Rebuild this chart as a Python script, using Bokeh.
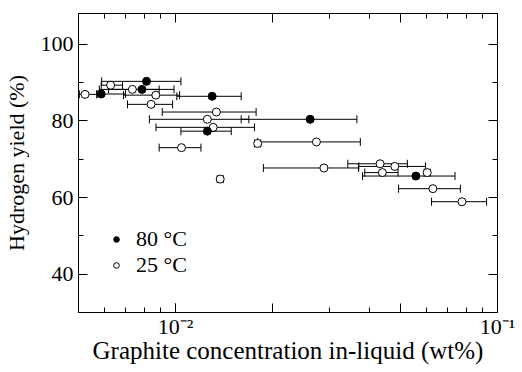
from bokeh.plotting import figure
from bokeh.models import (ColumnDataSource, Whisker, TeeHead, FixedTicker, LogAxis,
                          LinearAxis, Legend, LegendItem)
from bokeh.embed import file_html
from bokeh.resources import INLINE

# 80 °C (filled)
hot_x = [0.00813, 0.00787, 0.00588, 0.0130, 0.0262, 0.01256, 0.0558]
hot_y = [90.3, 88.2, 87.0, 86.4, 80.4, 77.3, 65.6]
hot_lo = [0.0059, 0.0062, 0.0057, 0.0101, 0.0160, 0.0104, 0.0381]
hot_hi = [0.0104, 0.0099, 0.0070, 0.0160, 0.0366, 0.0149, 0.0738]

# 25 °C (open)
cold_x = [0.00524, 0.00629, 0.00735, 0.00869, 0.0084, 0.0134, 0.01256, 0.0131, 0.01044,
          0.0180, 0.0274, 0.01377, 0.0289, 0.0432, 0.0480, 0.0439, 0.0605, 0.0630, 0.0776]
cold_y = [86.9, 89.3, 88.2, 86.7, 84.3, 82.3, 80.4, 78.3, 73.0,
          74.1, 74.5, 64.8, 67.7, 68.8, 68.1, 66.5, 66.5, 62.3, 58.9]
cold_lo = [0.00503, 0.00588, 0.0058, 0.0069, 0.0071, 0.0091, 0.0083, 0.0087, 0.0089,
           0.0176, 0.0180, 0.01348, 0.01875, 0.0343, 0.0371, 0.0387, 0.0592, 0.0493, 0.0624]
cold_hi = [0.0057, 0.00685, 0.0089, 0.0103, 0.0098, 0.0178, 0.0169, 0.0176, 0.0120,
           0.0184, 0.0375, 0.01407, 0.0370, 0.0525, 0.0598, 0.0491, 0.0618, 0.0767, 0.0925]

labels = ["80 °C", "25 °C"]
x_labeled = [0.01, 0.1]
x_labels = {0.01: "10⁻²", 0.1: "10⁻¹"}
x_long = [0.01, 0.02, 0.05, 0.1]
x_short = [0.005, 0.006, 0.007, 0.008, 0.009, 0.03, 0.04, 0.06, 0.07, 0.08, 0.09]
y_major = [40, 60, 80, 100]
y_minor = [30, 50, 70, 90]

FONT = "Liberation Serif"

p = figure(width=522, height=372, x_axis_type="log", x_range=(0.005, 0.1), y_range=(30, 108),
           x_axis_location=None,
           output_backend="svg", toolbar_location=None,
           min_border_left=78, min_border_right=25, min_border_top=13, min_border_bottom=60)
p.grid.visible = False
p.outline_line_color = "black"
p.outline_line_width = 1
p.background_fill_color = "white"
p.border_fill_color = "white"

hot = ColumnDataSource(dict(x=hot_x, y=hot_y, lo=hot_lo, hi=hot_hi))
cold = ColumnDataSource(dict(x=cold_x, y=cold_y, lo=cold_lo, hi=cold_hi))

for src in (hot, cold):
    w = Whisker(source=src, base="y", lower="lo", upper="hi", dimension="width",
                line_color="black", line_width=1,
                upper_head=TeeHead(size=8, line_color="black", line_width=1),
                lower_head=TeeHead(size=8, line_color="black", line_width=1),
                level="underlay")
    p.add_layout(w)

r_cold = p.scatter("x", "y", source=cold, size=8, marker="circle",
                   fill_color="white", line_color="black", line_width=1)
r_hot = p.scatter("x", "y", source=hot, size=8, marker="circle",
                  fill_color="black", line_color="black", line_width=1)


def style_axis(ax):
    ax.axis_line_color = "black"
    ax.major_tick_in = 9
    ax.major_tick_out = 0
    ax.minor_tick_in = 5
    ax.minor_tick_out = 0
    ax.major_tick_line_color = "black"
    ax.minor_tick_line_color = "black"
    ax.major_label_text_font = FONT
    ax.major_label_text_color = "black"
    ax.major_label_text_font_size = "22px"
    ax.axis_label_text_font = FONT
    ax.axis_label_text_font_style = "normal"
    ax.axis_label_text_color = "black"
    ax.axis_label_text_font_size = "22px"


def tick_only(cls, ticks, length):
    # axis with no labels: ticks drawn as "minor" ticks of a given inward length
    ax = cls(ticker=FixedTicker(ticks=[], minor_ticks=ticks))
    ax.axis_line_color = "black"
    ax.major_tick_in = 0
    ax.major_tick_out = 0
    ax.minor_tick_in = length
    ax.minor_tick_out = 0
    ax.minor_tick_line_color = "black"
    ax.major_label_standoff = 0
    return ax


# bottom: long unlabeled ticks first (closest to frame), then labeled axis
p.add_layout(tick_only(LogAxis, x_long, 9), "below")
xa = LogAxis(ticker=FixedTicker(ticks=x_labeled, minor_ticks=x_short))
style_axis(xa)
xa.major_label_overrides = x_labels
xa.axis_label = "Graphite concentration in-liquid (wt%)"
xa.axis_label_text_font_size = "25px"
xa.major_label_standoff = 1
xa.axis_label_standoff = -5
p.add_layout(xa, "below")

ya = p.yaxis[0]
ya.ticker = FixedTicker(ticks=y_major, minor_ticks=y_minor)
ya.axis_label = "Hydrogen yield (%)"
style_axis(ya)
ya.major_label_standoff = 5
ya.axis_label_standoff = 9

p.add_layout(tick_only(LogAxis, x_long, 9), "above")
p.add_layout(tick_only(LogAxis, x_short, 5), "above")
p.add_layout(tick_only(LinearAxis, y_major, 9), "right")
p.add_layout(tick_only(LinearAxis, y_minor, 5), "right")

legend = Legend(items=[LegendItem(label=labels[0], renderers=[r_hot]),
                       LegendItem(label=labels[1], renderers=[r_cold])],
                location=(26, 29), padding=5, glyph_width=14, glyph_height=22,
                label_height=22, label_standoff=13, spacing=0,
                label_text_font=FONT, label_text_font_size="22px",
                label_text_color="black",
                border_line_alpha=0, background_fill_alpha=0)
p.add_layout(legend)

open("out.html", "w").write(file_html(p, INLINE))
